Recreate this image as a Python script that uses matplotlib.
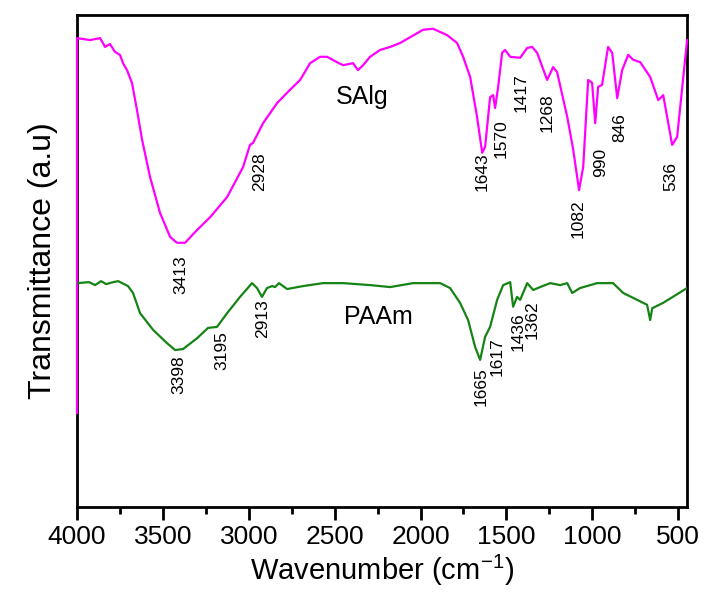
import matplotlib
matplotlib.use("Agg")
import matplotlib.pyplot as plt
from matplotlib.ticker import MultipleLocator

plt.rcParams['font.family'] = ['Liberation Sans', 'DejaVu Sans']

# ---- data (wavenumber cm-1, transmittance a.u.) ----
salg_wn = [4000, 4000, 3924, 3866, 3849, 3837, 3808, 3779, 3750, 3732, 3709,
           3680, 3651, 3621, 3575, 3517, 3458, 3418, 3371, 3301, 3225, 3126,
           3033, 2993, 2975, 2917, 2835, 2760, 2701, 2643, 2585, 2544, 2486,
           2451, 2393, 2364, 2334, 2294, 2235, 2177, 2119, 1985, 1927, 1845,
           1787, 1752, 1711, 1671, 1641, 1624, 1595, 1577, 1566, 1548, 1525,
           1508, 1478, 1420, 1379, 1350, 1321, 1263, 1228, 1205, 1146, 1111,
           1077, 1053, 1024, 1001, 983, 966, 943, 908, 884, 855, 826, 791,
           762, 721, 663, 616, 587, 535, 506, 448]
salg_t = [19.1, 95.3, 94.9, 95.3, 94.3, 93.5, 94.1, 92.5, 91.9, 90.2, 88.8,
          86.2, 80.7, 74.6, 67.1, 59.8, 54.9, 53.7, 53.7, 56.3, 58.9, 63.0,
          69.1, 73.6, 74.0, 78.0, 82.1, 84.8, 86.8, 90.2, 91.5, 91.5, 90.4,
          89.8, 90.2, 88.8, 89.8, 91.5, 92.9, 93.5, 94.3, 97.0, 97.2, 95.9,
          94.3, 91.5, 87.4, 79.3, 72.0, 73.2, 83.3, 83.7, 81.1, 85.4, 92.3,
          92.9, 91.5, 91.3, 93.3, 93.5, 92.3, 86.8, 89.4, 88.4, 79.3, 72.6,
          64.4, 69.1, 86.8, 86.2, 78.0, 85.4, 85.8, 93.5, 92.3, 83.1, 88.8, 91.9,
          90.9, 90.4, 87.4, 82.7, 83.7, 73.6, 75.2, 94.9]

paam_wn = [4000, 3930, 3895, 3860, 3830, 3790, 3760, 3703, 3674, 3633, 3557,
           3476, 3429, 3383, 3301, 3237, 3185, 3126, 3051, 2981, 2952, 2923,
           2894, 2864, 2847, 2824, 2777, 2684, 2567, 2451, 2294, 2177, 2043,
           1886, 1828, 1770, 1723, 1682, 1653, 1624, 1595, 1554, 1519, 1478,
           1461, 1438, 1420, 1379, 1344, 1304, 1245, 1187, 1146, 1117, 1071,
           972, 879, 820, 762, 681, 663, 651, 587, 448]
paam_t = [45.5, 45.7, 45.1, 45.9, 45.3, 45.7, 45.9, 44.9, 43.5, 39.4, 36.0,
          33.3, 31.9, 32.1, 34.3, 36.4, 36.6, 39.4, 42.7, 45.5, 44.5, 42.7,
          44.5, 44.9, 44.7, 45.5, 44.3, 44.9, 45.5, 45.5, 45.1, 44.7, 45.5,
          45.5, 44.5, 41.5, 38.0, 32.5, 29.9, 34.6, 36.6, 42.1, 45.1, 45.7,
          40.7, 42.7, 42.1, 45.5, 44.1, 44.7, 45.5, 45.1, 45.5, 43.5, 44.5,
          45.5, 45.5, 43.5, 42.5, 41.1, 38.0, 40.4, 41.5, 44.5]

salg_peaks = ['3413', '2928', '1643', '1570', '1417', '1268', '1082', '990', '846', '536']
salg_peak_x = [3394, 2934, 1641, 1531, 1414, 1263, 1082, 954, 838, 541]
salg_peak_y = [47.2, 68.1, 68.1, 74.8, 84.3, 80.1, 58.5, 70.1, 77.2, 67.1]

paam_peaks = ['3398', '3195', '2913', '1665', '1617', '1436', '1362']
paam_peak_x = [3406, 3156, 2917, 1647, 1554, 1432, 1350]
paam_peak_y = [26.8, 31.7, 38.2, 24.4, 30.5, 35.6, 38.0]

series_names = ['SAlg', 'PAAm']
series_label_x = [2340, 2247]
series_label_y = [83.3, 38.6]

x_ticks = [4000, 3500, 3000, 2500, 2000, 1500, 1000, 500]

# ---- figure ----
fig = plt.figure(figsize=(7.04, 6.04), dpi=100)
ax = fig.add_axes([0.1094, 0.1606, 0.8666, 0.8146])

ax.plot(salg_wn, salg_t, color='#FF00FF', lw=1.6, zorder=3, clip_on=False)
ax.plot(paam_wn, paam_t, color='#158415', lw=1.6, zorder=3)

for lab, x, y in zip(salg_peaks, salg_peak_x, salg_peak_y):
    ax.text(x, y, lab, rotation=90, ha='center', va='center', fontsize=12.5)
for lab, x, y in zip(paam_peaks, paam_peak_x, paam_peak_y):
    ax.text(x, y, lab, rotation=90, ha='center', va='center', fontsize=12.5)
for lab, x, y in zip(series_names, series_label_x, series_label_y):
    ax.text(x, y, lab, ha='center', va='center', fontsize=18)

ax.set_xlim(4000, 448)
ax.set_ylim(0, 100)
ax.set_xticks(x_ticks)
ax.set_xticklabels([str(t) for t in x_ticks])
ax.xaxis.set_minor_locator(MultipleLocator(250))
ax.set_yticks([])
ax.tick_params(axis='x', which='major', direction='out', length=9, width=2,
               labelsize=19, pad=4, top=False)
ax.tick_params(axis='x', which='minor', direction='out', length=5, width=2, top=False)
for s in ax.spines.values():
    s.set_linewidth(2)

ax.set_xlabel('Wavenumber (cm$^{\\mathregular{-1}}$)', fontsize=21, labelpad=3)
ax.set_ylabel('Transmittance (a.u)', fontsize=23, labelpad=14)

fig.savefig('out.png', dpi=100)
